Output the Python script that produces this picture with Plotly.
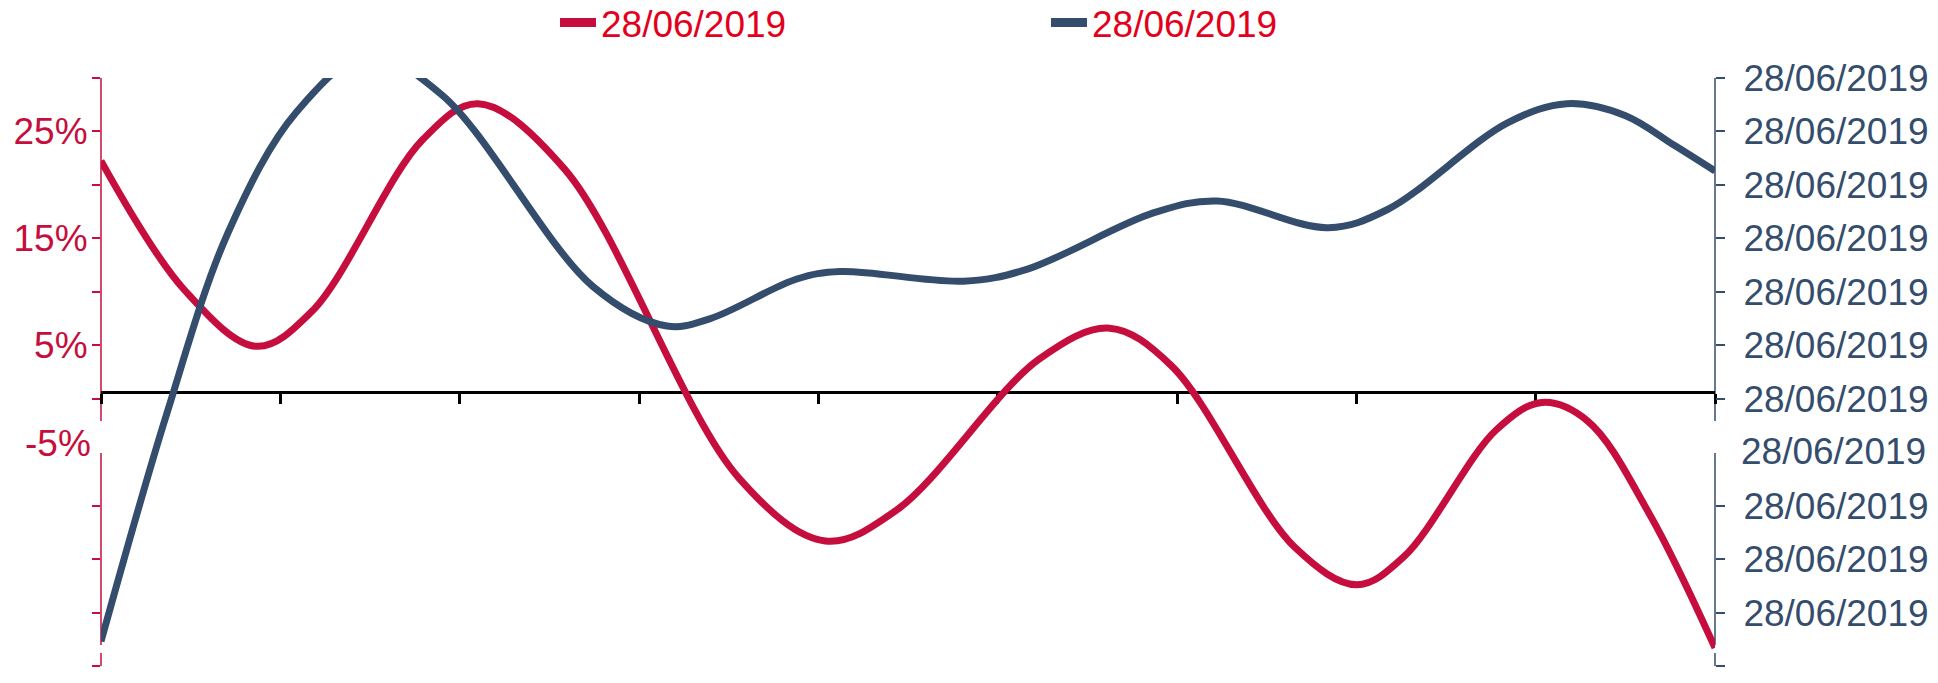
import plotly.graph_objects as go

# Observation positions (in x-tick units) and values for each series
red_x = [0.0, 0.469, 0.868, 1.178, 1.792, 2.102, 2.584, 3.556, 4.039,
         4.438, 5.231, 5.624, 5.968, 6.657, 7.002, 7.264, 7.781, 8.036,
         8.291, 8.635, 9.0]
red_values = [22.25, 10.1, 4.9, 8.2, 24.2, 27.6, 21.5, -7.4, -13.3,
              -10.4, 3.7, 6.6, 3.1, -13.9, -17.4, -14.8, -2.9, -0.35,
              -2.1, -10.8, -23.3]

blue_x = [0.0, 0.365, 0.710, 1.089, 1.489, 1.902, 2.743, 3.156, 3.398,
          3.880, 4.121, 4.810, 5.162, 5.872, 6.223, 6.844, 7.174, 7.843,
          8.174, 8.498, 8.773, 9.0]
blue_values = [-22.7, -1.5, 15.6, 26.8, 32.1, 28.4, 10.5, 6.8, 7.5,
               11.2, 11.9, 11.0, 12.1, 17.4, 18.5, 16.0, 17.7, 25.8,
               27.6, 26.5, 23.7, 21.3]

series_names = ["28/06/2019", "28/06/2019"]

x_ticks = list(range(10))
y_ticks = [30, 25, 20, 15, 10, 5, 0, -10, -15, -20, -25]
left_labels = {25: "25%", 15: "15%", 5: "5%"}
right_label = "28/06/2019"

RED = "#C50E3D"
BLUE = "#344D6D"
LEGEND_RED = "#E3001B"
FONT = "Liberation Sans, Arial, sans-serif"

W, H = 1938, 683
L, R, T, B = 101, 223, 78, 17
plot_h = H - T - B
y_min, y_max = -25, 30


def py(px):
    """Convert a pixel row to a paper fraction of the plotting area."""
    return (H - B - px) / plot_h


fig = go.Figure()

fig.add_trace(go.Scatter(x=red_x, y=red_values, mode="lines", name=series_names[0],
                         line=dict(color=RED, width=7, shape="spline", smoothing=1.0),
                         yaxis="y", showlegend=False))
fig.add_trace(go.Scatter(x=blue_x, y=blue_values, mode="lines", name=series_names[1],
                         line=dict(color=BLUE, width=7, shape="spline", smoothing=1.0),
                         yaxis="y2", showlegend=False))

# Legend entries with a heavier key line
fig.add_trace(go.Scatter(x=[None], y=[None], mode="lines", name=series_names[0],
                         line=dict(color=RED, width=9), legend="legend"))
fig.add_trace(go.Scatter(x=[None], y=[None], mode="lines", name=series_names[1],
                         line=dict(color=BLUE, width=9), legend="legend2", yaxis="y2"))

# Vertical axis lines with breaks
for xp, col in [(0, RED), (1, BLUE)]:
    for top, bottom in [(78, 421), (453, 645), (653, 666)]:
        fig.add_shape(type="line", xref="paper", yref="paper", x0=xp, x1=xp,
                      y0=py(top), y1=py(bottom), line=dict(color=col, width=1.5),
                      layer="below")

# Labels sitting in the axis breaks
fig.add_annotation(text="-5%", xref="paper", yref="paper", x=0, y=py(443),
                   xanchor="right", yanchor="middle", xshift=-8, showarrow=False,
                   font=dict(family=FONT, size=37, color=RED))
fig.add_annotation(text=right_label, xref="paper", yref="paper", x=1, y=py(452),
                   xanchor="left", yanchor="middle", xshift=24, showarrow=False,
                   font=dict(family=FONT, size=37, color=BLUE))

legend_common = dict(orientation="h", xref="container", yref="container",
                     xanchor="left", yanchor="middle", bgcolor="rgba(0,0,0,0)",
                     font=dict(family=FONT, size=37, color=LEGEND_RED),
                     itemwidth=36, itemclick=False)

fig.update_layout(
    width=W, height=H,
    margin=dict(l=L, r=R, t=T, b=B, autoexpand=False),
    paper_bgcolor="white", plot_bgcolor="white",
    font=dict(family=FONT),
    legend=dict(x=555 / W, y=1 - 23 / H, **legend_common),
    legend2=dict(x=1046 / W, y=1 - 23 / H, **legend_common),
    xaxis=dict(range=[0, 9], tickvals=x_ticks, showticklabels=False,
               showgrid=False, zeroline=False, automargin=False,
               showline=True, linecolor="black", linewidth=2.5,
               ticks="outside", ticklen=10, tickwidth=2.5, tickcolor="black",
               anchor="free", position=py(392), layer="below traces"),
    yaxis=dict(range=[y_min, y_max], tickvals=y_ticks,
               ticktext=[left_labels.get(v, "") for v in y_ticks],
               showgrid=False, zeroline=False, showline=False, automargin=False,
               ticks="outside", ticklen=8, tickwidth=1.5, tickcolor=RED,
               tickfont=dict(family=FONT, size=37, color=RED),
               ticklabelstandoff=-3, layer="below traces"),
    yaxis2=dict(range=[y_min, y_max], tickvals=y_ticks,
                ticktext=[right_label for _ in y_ticks],
                overlaying="y", side="right", automargin=False,
                showgrid=False, zeroline=False, showline=False,
                ticks="outside", ticklen=9, tickwidth=1.5, tickcolor=BLUE,
                tickfont=dict(family=FONT, size=37, color=BLUE),
                ticklabelstandoff=11, layer="below traces"),
)

fig.write_html("out.html")
